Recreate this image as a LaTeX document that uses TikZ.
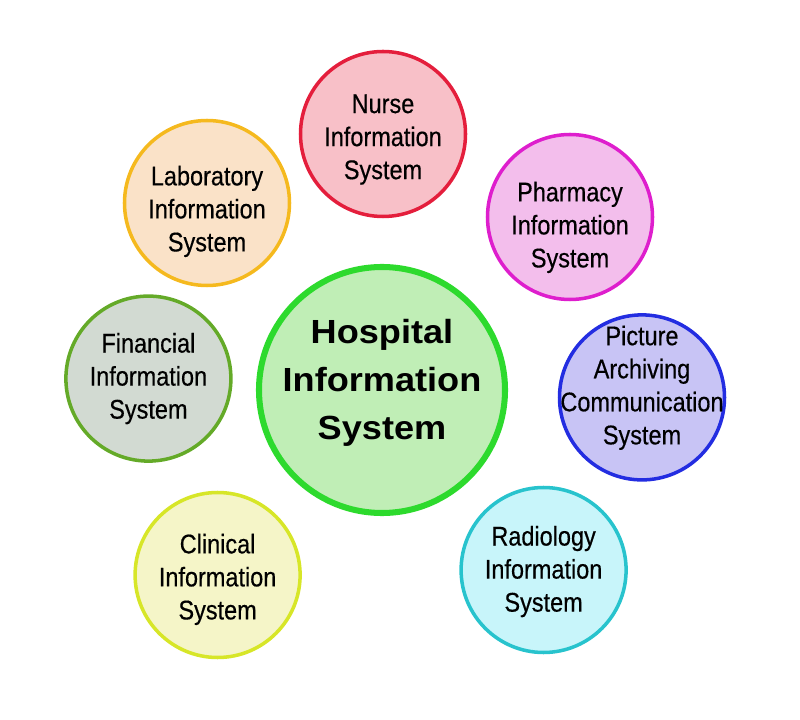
\documentclass[tikz,border=0pt]{standalone}
\usepackage{fontspec}
\setmainfont{Liberation Sans}
\newfontfamily\narrowsans[FakeStretch=0.87,FakeBold=0.4]{Liberation Sans}
\newfontfamily\widebold[FakeStretch=1.08]{Liberation Sans Bold}
\usetikzlibrary{calc}

\definecolor{hubfill}{RGB}{192,238,182}
\definecolor{hubline}{RGB}{45,218,45}
\definecolor{nursefill}{RGB}{248,192,200}
\definecolor{nurseline}{RGB}{228,30,60}
\definecolor{pharmfill}{RGB}{243,190,236}
\definecolor{pharmline}{RGB}{222,30,205}
\definecolor{pacsfill}{RGB}{200,196,245}
\definecolor{pacsline}{RGB}{35,45,225}
\definecolor{radiofill}{RGB}{200,245,250}
\definecolor{radioline}{RGB}{40,195,205}
\definecolor{clinfill}{RGB}{245,245,200}
\definecolor{clinline}{RGB}{215,230,40}
\definecolor{finfill}{RGB}{210,218,210}
\definecolor{finline}{RGB}{100,170,40}
\definecolor{labfill}{RGB}{250,226,200}
\definecolor{labline}{RGB}{245,185,30}

\tikzset{
	sysball/.style={circle, minimum size=4.125cm, line width=2.5pt, inner sep=0pt},
	systext/.style={align=center, inner sep=0pt, font=\narrowsans\fontsize{19.2}{23.5}\selectfont},
	hubball/.style={circle, minimum size=6.15cm, line width=4.3pt, inner sep=0pt},
	hubtext/.style={align=center, inner sep=0pt, font=\widebold\fontsize{23.8}{34.1}\selectfont}
}

\begin{document}
\begin{tikzpicture}
			%%%%% START %%%%%
			
			\useasboundingbox (0, 0) rectangle (20, 17.975);
			
			\node[hubball, fill=hubfill, draw=hubline] (hub) at (9.55, 8.225) {};
			\node[hubtext] (hubt) at ($(hub)+(0, 0.18)$) {Hospital\\Information\\System};
			
			\node[sysball, fill=nursefill, draw=nurseline] (nurse) at (9.575, 14.625) {};
			\node[systext] (nurset) at ($(nurse)+(0, -0.14)$) {Nurse\\Information\\System};
			
			\node[sysball, fill=pharmfill, draw=pharmline] (pharm) at (14.25, 12.55) {};
			\node[systext] (pharmt) at ($(pharm)+(0, -0.26)$) {Pharmacy\\Information\\System};
			
			\node[sysball, fill=pacsfill, draw=pacsline] (pacs) at (16.05, 8.04) {};
			\node[systext] (pacst) at ($(pacs)+(0, 0.24)$) {Picture\\Archiving\\Communication\\System};
			
			\node[sysball, fill=radiofill, draw=radioline] (radio) at (13.59, 3.725) {};
			\node[systext] (radiot) at ($(radio)+(0, -0.04)$) {Radiology\\Information\\System};
			
			\node[sysball, fill=clinfill, draw=clinline] (clin) at (5.44, 3.6) {};
			\node[systext] (clint) at ($(clin)+(0, -0.11)$) {Clinical\\Information\\System};
			
			\node[sysball, fill=finfill, draw=finline] (fin) at (3.71, 8.51) {};
			\node[systext] (fint) at ($(fin)+(0, 0)$) {Financial\\Information\\System};
			
			\node[sysball, fill=labfill, draw=labline] (lab) at (5.175, 12.9) {};
			\node[systext] (labt) at ($(lab)+(0, -0.21)$) {Laboratory\\Information\\System};
			
			%%%%% END %%%%%
\end{tikzpicture}
\end{document}
